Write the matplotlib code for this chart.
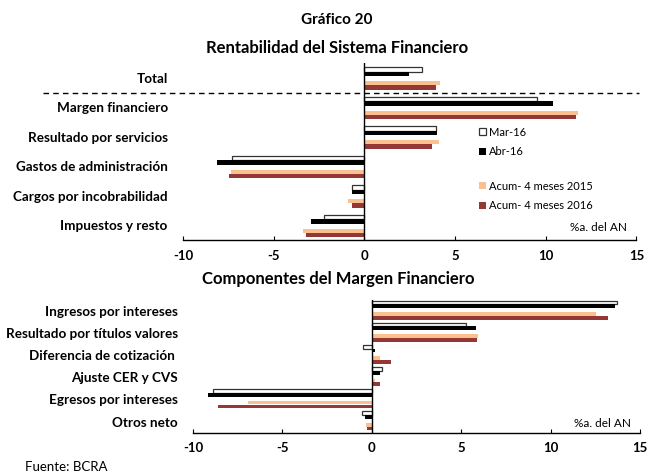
import matplotlib.pyplot as plt

plt.rcParams['font.family'] = ['Lato', 'DejaVu Sans']

# Rentabilidad del sistema financiero (%a. del AN)
cat_top = ['Total', 'Margen financiero', 'Resultado por servicios',
           'Gastos de administración', 'Cargos por incobrabilidad', 'Impuestos y resto']
mar16_top = [3.2, 9.5, 3.95, -7.3, -0.7, -2.2]
abr16_top = [2.45, 10.4, 4.0, -8.15, -0.7, -2.95]
acum15_top = [4.15, 11.8, 4.1, -7.35, -0.9, -3.4]
acum16_top = [3.95, 11.65, 3.75, -7.45, -0.7, -3.2]

# Componentes del margen financiero
cat_bot = ['Ingresos por intereses', 'Resultado por títulos valores',
           'Diferencia de cotización ', 'Ajuste CER y CVS',
           'Egresos por intereses', 'Otros neto']
mar16_bot = [13.7, 5.25, -0.5, 0.55, -8.9, -0.55]
abr16_bot = [13.6, 5.8, 0.2, 0.45, -9.15, -0.4]
acum15_bot = [12.55, 5.95, 0.45, 0.2, -6.95, -0.3]
acum16_bot = [13.2, 5.9, 1.1, 0.45, -8.6, -0.25]

series_names = ['Mar-16', 'Abr-16', 'Acum- 4 meses 2015', 'Acum- 4 meses 2016']
light_orange = '#FAC090'
dark_red = '#953735'

fig = plt.figure(figsize=(6.49, 4.75), dpi=100)


def draw_panel(ax, cats, series, offsets, h):
    ys = list(range(len(cats)))
    b1 = ax.barh([y + offsets[0] for y in ys], series[0], height=h,
                 color='white', edgecolor='#333333', linewidth=0.9)
    b2 = ax.barh([y + offsets[1] for y in ys], series[1], height=h, color='black')
    b3 = ax.barh([y + offsets[2] for y in ys], series[2], height=h, color=light_orange)
    b4 = ax.barh([y + offsets[3] for y in ys], series[3], height=h, color=dark_red)
    ax.axvline(0, color='black', linewidth=1.0)
    ax.set_ylim(len(cats), 0)
    ax.set_xlim(-10, 15)
    ax.set_xticks([-10, -5, 0, 5, 10, 15])
    ax.set_xticklabels(['-10', '-5', '0', '5', '10', '15'])
    ax.set_yticks([y + 0.5 for y in ys])
    ax.set_yticklabels(cats)
    for lbl in ax.get_xticklabels():
        lbl.set_fontweight('bold')
        lbl.set_fontsize(9.5)
    for lbl in ax.get_yticklabels():
        lbl.set_fontweight('bold')
        lbl.set_fontsize(9.7)
    ax.tick_params(axis='y', length=0, pad=11)
    ax.tick_params(axis='x', direction='in', length=3, pad=7)
    ax.spines['top'].set_visible(False)
    ax.spines['right'].set_visible(False)
    ax.spines['left'].set_visible(False)
    ax.spines['bottom'].set_linewidth(1.0)
    ax.text(0.98, 0.07, '%a. del AN', transform=ax.transAxes, ha='right',
            va='center', fontsize=8.5)
    return [b1, b2, b3, b4]


ax1 = fig.add_axes([0.282, 0.4947, 0.6985, 0.3726])
bars = draw_panel(ax1, cat_top, [mar16_top, abr16_top, acum15_top, acum16_top],
                  [0.22, 0.37, 0.685, 0.833], 0.148)
ax1.axhline(1.0, xmin=-0.308, xmax=1.006, color='black', linestyle=(0, (4, 3)),
            linewidth=1.0, clip_on=False)

# legend in two groups, like the original
leg_kw = dict(loc='upper left', frameon=False, fontsize=8,
              handlelength=0.6, handleheight=0.6, handletextpad=0.3,
              labelspacing=0.75, borderaxespad=0)
leg1 = ax1.legend(bars[:2], series_names[:2], bbox_to_anchor=(0.643, 0.665), **leg_kw)
ax1.add_artist(leg1)
ax1.legend(bars[2:], series_names[2:], bbox_to_anchor=(0.643, 0.36), **leg_kw)

ax2 = fig.add_axes([0.2974, 0.0891, 0.6888, 0.2794])
draw_panel(ax2, cat_bot, [mar16_bot, abr16_bot, acum15_bot, acum16_bot],
           [0.113, 0.285, 0.64, 0.815], 0.172)

fig.text(0.519, 1 - 20 / 475, 'Gráfico 20', ha='center', va='center',
         fontweight='bold', fontsize=11)
fig.text(0.519, 1 - 48 / 475, 'Rentabilidad del Sistema Financiero', ha='center',
         va='center', fontweight='bold', fontsize=12)
fig.text(0.521, 1 - 279 / 475, 'Componentes del Margen Financiero', ha='center',
         va='center', fontweight='bold', fontsize=12)
fig.text(25 / 649, 1 - 467 / 475, 'Fuente: BCRA', ha='left', va='center', fontsize=9.5)

fig.savefig('out.png', dpi=100)
